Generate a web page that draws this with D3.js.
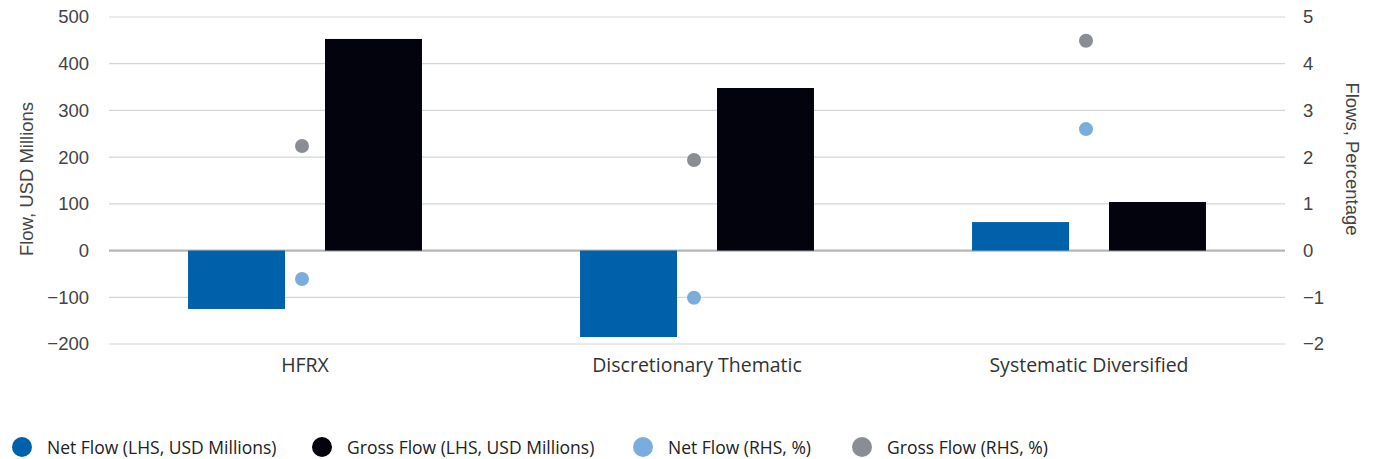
<!DOCTYPE html>
<html><head><meta charset="utf-8">
<script src="https://cdn.jsdelivr.net/npm/d3@7"></script>
<style>body{margin:0;background:#fff;} svg{display:block;font-family:"Open Sans", sans-serif;}</style>
</head><body>
<svg id="c" width="1376" height="459"></svg>
<script>
const categories = ["HFRX", "Discretionary Thematic", "Systematic Diversified"];
const netFlowUSD = [-125, -185, 61];
const grossFlowUSD = [453, 348, 104];
const netFlowPct = [-0.61, -1.01, 2.60];
const grossFlowPct = [2.24, 1.94, 4.49];
const leftTicks = [-200, -100, 0, 100, 200, 300, 400, 500];
const rightTicks = [-2, -1, 0, 1, 2, 3, 4, 5];
const legendLabels = ["Net Flow (LHS, USD Millions)", "Gross Flow (LHS, USD Millions)", "Net Flow (RHS, %)", "Gross Flow (RHS, %)"];
const colors = ["#0061ab", "#02030d", "#7aaddc", "#8a8e94"];

const svg = d3.select("#c");
const L = 109, R = 1285, T = 17, B = 344;
const x = d3.scaleBand().domain(categories).range([L, R]);
const yL = d3.scaleLinear().domain([-200, 500]).range([B, T]);
const yR = d3.scaleLinear().domain([-2, 5]).range([B, T]);

// grid
svg.append("g").selectAll("line").data(leftTicks).join("line")
  .attr("x1", L).attr("x2", R)
  .attr("y1", d => yL(d)).attr("y2", d => yL(d))
  .attr("stroke", d => d === 0 ? "#b4b6b8" : "#d4d5d6")
  .attr("stroke-width", d => d === 0 ? 2.2 : 1.2);

const tickFont = "'Liberation Sans', Arial, sans-serif";
// left axis
const gl = svg.append("g").attr("transform", `translate(${L - 20},0)`)
  .call(d3.axisLeft(yL).tickValues(leftTicks).tickSize(0).tickPadding(0));
gl.select(".domain").remove();
gl.selectAll("text").attr("font-size", 18.5).attr("fill", "#444").attr("font-family", tickFont);

// right axis
const gr = svg.append("g").attr("transform", `translate(${R + 18},0)`)
  .call(d3.axisRight(yR).tickValues(rightTicks).tickFormat(d3.format("d")).tickSize(0).tickPadding(0));
gr.select(".domain").remove();
gr.selectAll("text").attr("font-size", 18.5).attr("fill", "#444").attr("font-family", tickFont);

// axis titles
svg.append("text").attr("transform", `translate(33,179) rotate(-90)`)
  .attr("text-anchor", "middle").attr("font-size", 18.5).attr("fill", "#444").attr("font-family", tickFont).text("Flow, USD Millions");
svg.append("text").attr("transform", `translate(1346,159) rotate(90)`)
  .attr("text-anchor", "middle").attr("font-size", 18.5).attr("fill", "#444").attr("font-family", tickFont).text("Flows, Percentage");

// bars
const inner = d3.scaleBand().domain(["net", "gross"]).range([0, x.bandwidth()]).paddingInner(0.292).paddingOuter(0.577);
const g = svg.append("g");
g.selectAll(".net").data(categories).join("rect")
  .attr("x", d => x(d) + inner("net")).attr("width", inner.bandwidth())
  .attr("y", (d, i) => yL(Math.max(0, netFlowUSD[i])))
  .attr("height", (d, i) => Math.abs(yL(netFlowUSD[i]) - yL(0)))
  .attr("fill", colors[0]);
g.selectAll(".gross").data(categories).join("rect")
  .attr("x", d => x(d) + inner("gross")).attr("width", inner.bandwidth())
  .attr("y", (d, i) => yL(Math.max(0, grossFlowUSD[i])))
  .attr("height", (d, i) => Math.abs(yL(grossFlowUSD[i]) - yL(0)))
  .attr("fill", colors[1]);

// dots
g.selectAll(".np").data(categories).join("circle")
  .attr("cx", d => x(d) + x.bandwidth() / 2 - 3).attr("cy", (d, i) => yR(netFlowPct[i]))
  .attr("r", 7).attr("fill", colors[2]);
g.selectAll(".gp").data(categories).join("circle")
  .attr("cx", d => x(d) + x.bandwidth() / 2 - 3).attr("cy", (d, i) => yR(grossFlowPct[i]))
  .attr("r", 7).attr("fill", colors[3]);

// category labels
svg.append("g").selectAll("text").data(categories).join("text")
  .attr("x", d => x(d) + x.bandwidth() / 2).attr("y", 372)
  .attr("text-anchor", "middle").attr("font-size", 19.5).attr("fill", "#333").text(d => d);

// legend
const legX = [22, 322, 643, 862];
const lg = svg.append("g");
legendLabels.forEach((t, i) => {
  lg.append("circle").attr("cx", legX[i]).attr("cy", 447).attr("r", 10).attr("fill", colors[i]);
  lg.append("text").attr("x", legX[i] + 25).attr("y", 453.5).attr("font-size", 17.5)
    .attr("fill", "#222").text(t);
});
</script>
</body></html>
